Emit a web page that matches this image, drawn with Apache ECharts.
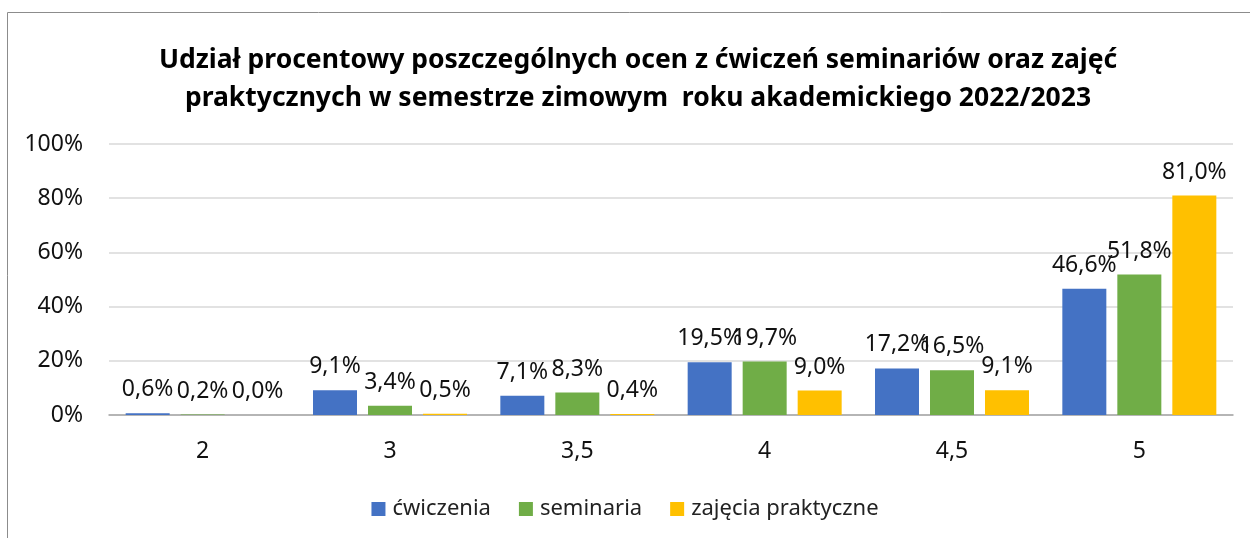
<!DOCTYPE html>
<html>
<head>
<meta charset="utf-8">
<script src="https://cdn.jsdelivr.net/npm/echarts@6/dist/echarts.min.js"></script>
<style>
  html, body { margin: 0; padding: 0; background: #fff; }
  #chart { width: 1250px; height: 538px; }
</style>
</head>
<body>
<div id="chart"></div>
<script>
// oceny
const categories = ['2', '3', '3,5', '4', '4,5', '5']
const seriesNames = ['ćwiczenia', 'seminaria', 'zajęcia praktyczne']
const cwiczenia = [0.6, 9.1, 7.1, 19.5, 17.2, 46.6]
const seminaria = [0.2, 3.4, 8.3, 19.7, 16.5, 51.8]
const zajecia = [0.0, 0.5, 0.4, 9.0, 9.1, 81.0]
const colors = ['#4472C4', '#70AD47', '#FFC000']

const FONT = 'Noto Sans'
const fmt = v => v.toFixed(1).replace('.', ',') + '%'

const chart = echarts.init(document.getElementById('chart'))

const mkSeries = (name, data, color) => ({
  name: name,
  type: 'bar',
  data: data,
  barWidth: 44,
  barGap: '25%',
  itemStyle: { color: color },
  label: {
    show: true,
    position: 'top',
    distance: 12,
    fontFamily: FONT,
    fontSize: 23,
    color: '#111',
    formatter: p => fmt(p.value)
  }
})

chart.setOption({
  animation: false,
  textStyle: { fontFamily: FONT },
  title: {
    text: 'Udział procentowy poszczególnych ocen z ćwiczeń seminariów oraz zajęć\npraktycznych w semestrze zimowym  roku akademickiego 2022/2023',
    left: 633,
    textAlign: 'center',
    top: 36,
    textStyle: { fontFamily: FONT, fontWeight: 'bold', fontSize: 26.5, lineHeight: 38, color: '#000' }
  },
  graphic: [{
    type: 'rect',
    shape: { x: 7.5, y: 12.5, width: 1300, height: 600 },
    style: { fill: 'none', stroke: '#8c8c8c', lineWidth: 1 },
    silent: true
  }],
  legend: {
    data: seriesNames,
    top: 493,
    left: 'center',
    itemWidth: 14,
    itemHeight: 14,
    itemGap: 28,
    icon: 'rect',
    textStyle: { fontFamily: FONT, fontSize: 22, color: '#222', padding: [0, 0, 0, 2] }
  },
  grid: { left: 109, right: 17, top: 144, bottom: 123 },
  xAxis: {
    type: 'category',
    data: categories,
    axisLine: { lineStyle: { color: '#a6a6a6', width: 1.5 } },
    axisTick: { show: false },
    axisLabel: { fontFamily: FONT, fontSize: 23, color: '#111', margin: 25 }
  },
  yAxis: {
    type: 'value',
    min: 0,
    max: 100,
    interval: 20,
    axisLine: { show: false },
    axisTick: { show: false },
    splitLine: { lineStyle: { color: '#d9d9d9', width: 1.5 } },
    axisLabel: { fontFamily: FONT, fontSize: 23, color: '#111', margin: 26, formatter: '{value}%' }
  },
  series: [
    mkSeries(seriesNames[0], cwiczenia, colors[0]),
    mkSeries(seriesNames[1], seminaria, colors[1]),
    mkSeries(seriesNames[2], zajecia, colors[2])
  ]
})
</script>
</body>
</html>
